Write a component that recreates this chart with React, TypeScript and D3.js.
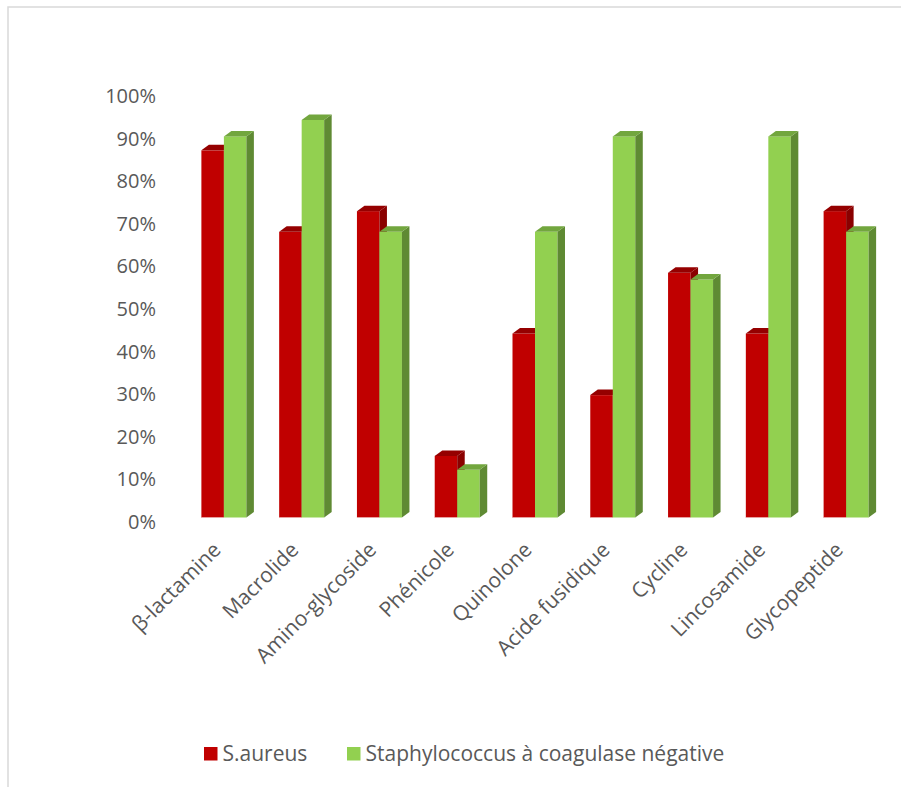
import React from "react";
import * as d3 from "d3";

// Antibiotic families and resistance rates (%) per species
const categories = [
  "β-lactamine",
  "Macrolide",
  "Amino-glycoside",
  "Phénicole",
  "Quinolone",
  "Acide fusidique",
  "Cycline",
  "Lincosamide",
  "Glycopeptide",
];
const sAureus = [87, 67.7, 72.6, 14.6, 43.6, 29, 58, 43.6, 72.6];
const scn = [90.3, 94.2, 67.7, 11.3, 67.7, 90.3, 56.4, 90.3, 67.7];
const seriesNames = ["S.aureus", "Staphylococcus à coagulase négative"];
const yTicks = [0, 10, 20, 30, 40, 50, 60, 70, 80, 90, 100];

const W = 901;
const H = 787;
const FONT = "'Open Sans', 'Noto Sans', sans-serif";
const TEXT = "#595959";

// front face, side face, top face
const palettes = [
  { front: "#c00000", side: "#8a0000", top: "#950000" },
  { front: "#92d050", side: "#5f8a33", top: "#72a63e" },
];

const DX = 7.5;
const DY = -5.5;

export default function App() {
  const x = d3
    .scaleBand<string>()
    .domain(categories)
    .range([185, 885])
    .paddingInner(0)
    .paddingOuter(0);
  const barW = 22.5;
  const y = d3.scaleLinear().domain([0, 100]).range([517.5, 95.5]);
  const yAxis = d3.scaleLinear().domain([0, 100]).range([522, 96]);

  const series = [sAureus, scn];

  return (
    <svg
      width={W}
      height={H}
      style={{ position: "absolute", left: 0, top: 0, background: "#fff" }}
      fontFamily={FONT}
    >
      <rect x={8} y={7} width={W + 20} height={H + 20} fill="#fff" stroke="#d9d9d9" strokeWidth={1.5} />

      {yTicks.map((t) => (
        <text
          key={t}
          x={156}
          y={yAxis(t)}
          dy="0.35em"
          textAnchor="end"
          fontSize={20}
          fill={TEXT}
        >
          {t}%
        </text>
      ))}

      {categories.map((c, i) => {
        const cx = (x(c) as number) + x.bandwidth() / 2;
        return (
          <g key={c}>
            {series.map((vals, s) => {
              const p = palettes[s];
              const x0 = cx - barW + s * barW;
              const x1 = x0 + barW;
              const yt = y(vals[i]);
              const yb = y(0);
              return (
                <g key={s}>
                  <rect x={x0} y={yt} width={barW} height={yb - yt} fill={p.front} />
                  <path
                    d={`M${x1},${yt} L${x1 + DX},${yt + DY} L${x1 + DX},${yb + DY} L${x1},${yb} Z`}
                    fill={p.side}
                  />
                  <path
                    d={`M${x0},${yt} L${x0 + DX},${yt + DY} L${x1 + DX},${yt + DY} L${x1},${yt} Z`}
                    fill={p.top}
                  />
                  <line x1={x0} x2={x1} y1={yb} y2={yb} stroke={s === 0 ? "#e8a0a0" : "#c8e8a8"} strokeWidth={1} />
                </g>
              );
            })}
            <text
              transform={`translate(${cx - 7},${546}) rotate(-45)`}
              textAnchor="end"
              dy="0.35em"
              fontSize={21}
              fill={TEXT}
            >
              {c}
            </text>
          </g>
        );
      })}

      {seriesNames.map((n, s) => {
        const lx = s === 0 ? 204 : 347;
        return (
          <g key={n}>
            <rect x={lx} y={747} width={13.5} height={13.5} fill={palettes[s].front} />
            <text x={lx + 18.5} y={754} dy="0.35em" fontSize={21} fill={TEXT}>
              {n}
            </text>
          </g>
        );
      })}
    </svg>
  );
}
